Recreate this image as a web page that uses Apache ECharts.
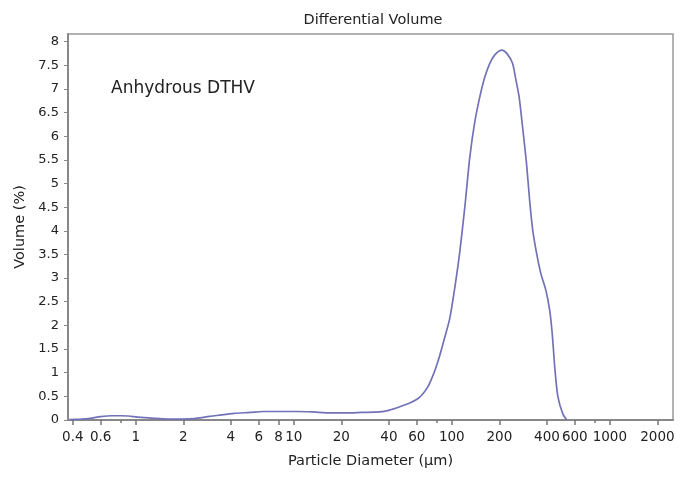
<!DOCTYPE html>
<html>
<head>
<meta charset="utf-8">
<script src="https://cdn.jsdelivr.net/npm/echarts@6/dist/echarts.min.js"></script>
<style>
html,body{margin:0;padding:0;background:#fff;}
#chart{width:696px;height:479px;}
</style>
</head>
<body>
<div id="chart"></div>
<script>
// Particle diameter (µm) and differential volume (%)
const diameters = [0.38, 0.45, 0.50, 0.60, 0.70, 0.80, 0.90, 1.03, 1.3, 1.6, 2.0, 2.35, 2.85, 3.5, 4.2, 5.3, 6.4, 8, 10.4, 13.2, 17, 21.5, 27, 35, 40.5, 46.9, 54.2, 60.9, 65.5, 70.5, 74.7, 79.2, 84.0, 90.3, 97.1, 104.5, 112.3, 120.9, 130.0, 139.8, 150.4, 161.8, 174, 187.2, 207.3, 222.9, 242.3, 254.2, 266.7, 280.3, 297.1, 311.7, 325.6, 345.1, 365.8, 393.4, 417.1, 432.6, 448.7, 468.8, 504.2, 534.4];
const volumes   = [0.01, 0.02, 0.03, 0.07, 0.09, 0.09, 0.085, 0.06, 0.035, 0.02, 0.02, 0.03, 0.07, 0.11, 0.14, 0.16, 0.18, 0.18, 0.18, 0.17, 0.15, 0.15, 0.16, 0.17, 0.21, 0.28, 0.36, 0.45, 0.55, 0.70, 0.88, 1.10, 1.37, 1.75, 2.15, 2.80, 3.55, 4.50, 5.55, 6.30, 6.83, 7.25, 7.54, 7.72, 7.82, 7.75, 7.54, 7.20, 6.83, 6.20, 5.42, 4.60, 4.00, 3.50, 3.10, 2.75, 2.30, 1.80, 1.10, 0.50, 0.13, 0.0];

const xMajorTicks = [0.4, 0.6, 1, 2, 4, 6, 8, 10, 20, 40, 60, 100, 200, 400, 600, 1000, 2000];
const xMajorLabels = ['0.4', '0.6', '1', '2', '4', '6', '8', '10', '20', '40', '60', '100', '200', '400', '600', '1000', '2000'];
const xMinorTicks = [0.8, 80, 800];
const yTicks = [0, 0.5, 1, 1.5, 2, 2.5, 3, 3.5, 4, 4.5, 5, 5.5, 6, 6.5, 7, 7.5, 8];
const xRange = [0.373, 2510];
const yRange = [0, 8.16];

const FONT = 'DejaVu Sans';
const lg = Math.log10;

function xLabel(v) {
  let best = 0, bd = Infinity;
  for (let i = 0; i < xMajorTicks.length; i++) {
    const e = Math.abs(lg(xMajorTicks[i]) - v);
    if (e < bd) { bd = e; best = i; }
  }
  return xMajorLabels[best];
}

const chart = echarts.init(document.getElementById('chart'), null, {renderer: 'canvas'});
const option = {
  animation: false,
  backgroundColor: '#fff',
  title: {
    text: 'Differential Volume',
    left: 368, textAlign: 'center', top: 8,
    textStyle: {fontFamily: FONT, fontSize: 14.5, fontWeight: 'normal', color: '#222'}
  },
  graphic: [{
    type: 'text', left: 111, top: 80,
    style: {text: 'Anhydrous DTHV', font: '17px "DejaVu Sans"', fill: '#222'}
  }],
  grid: {
    left: 68, right: 23, top: 34, bottom: 59,
    show: true, borderColor: '#999', borderWidth: 1.5, backgroundColor: '#fff'
  },
  xAxis: [{
    type: 'value', min: lg(xRange[0]), max: lg(xRange[1]),
    name: 'Particle Diameter (µm)', nameLocation: 'middle', nameGap: 34,
    nameTextStyle: {fontFamily: FONT, fontSize: 14.5, color: '#222'},
    axisLine: {show: true, onZero: false, lineStyle: {color: '#888', width: 2}},
    axisTick: {show: true, length: 5, customValues: xMajorTicks.map(lg), lineStyle: {color: '#777', width: 1.5}},
    axisLabel: {customValues: xMajorTicks.map(lg), formatter: xLabel, hideOverlap: false, margin: 10,
      fontFamily: FONT, fontSize: 13.5, color: '#222'},
    splitLine: {show: false}
  }, {
    type: 'value', min: lg(xRange[0]), max: lg(xRange[1]), position: 'bottom',
    axisLine: {show: false, onZero: false},
    axisTick: {show: true, length: 3, customValues: xMinorTicks.map(lg), lineStyle: {color: '#777', width: 1.5}},
    axisLabel: {show: false},
    splitLine: {show: false}
  }],
  yAxis: {
    type: 'value', min: yRange[0], max: yRange[1],
    name: 'Volume (%)', nameLocation: 'middle', nameGap: 37,
    nameTextStyle: {fontFamily: FONT, fontSize: 14.5, color: '#222'},
    axisLine: {show: true, onZero: false, lineStyle: {color: '#888', width: 2}},
    axisTick: {show: true, length: 4, customValues: yTicks, lineStyle: {color: '#888', width: 1}},
    axisLabel: {customValues: yTicks, margin: 9, fontFamily: FONT, fontSize: 13, color: '#222'},
    splitLine: {show: false}
  },
  series: [{
    type: 'line',
    xAxisIndex: 0,
    data: diameters.map((d, i) => [lg(d), volumes[i]]),
    showSymbol: false,
    smooth: 0.25,
    lineStyle: {color: '#7272b8', width: 1.7},
    clip: true
  }]
};
chart.setOption(option);
</script>
</body>
</html>
